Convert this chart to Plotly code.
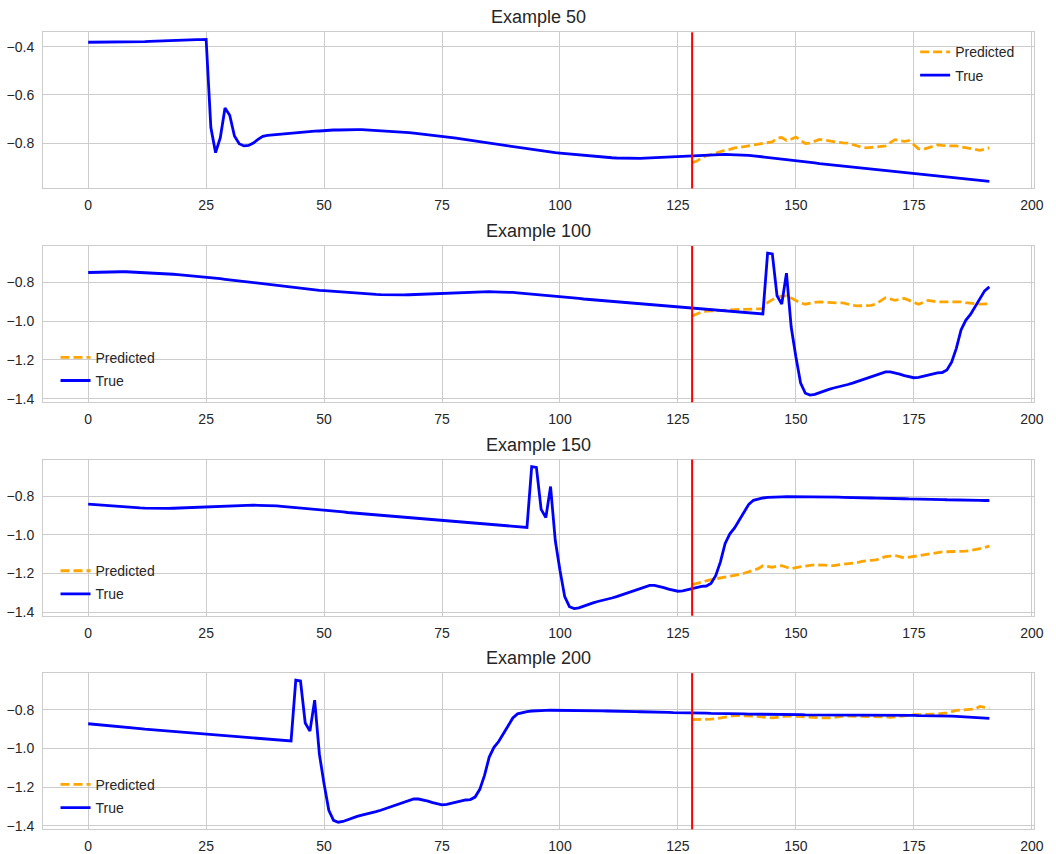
import plotly.graph_objects as go

# ---------------------------------------------------------------------------
# Data
# ---------------------------------------------------------------------------
# Underlying (normalised) signal, one value per time step, starting at step 50.
SIGNAL_START = 50
signal = [
    -0.382, -0.382, -0.382, -0.381, -0.381, -0.381, -0.381, -0.380, -0.380, -0.380,
    -0.380, -0.380, -0.379, -0.378, -0.377, -0.376, -0.375, -0.374, -0.374, -0.373,
    -0.373, -0.372, -0.372, -0.371, -0.371, -0.370, -0.736, -0.840, -0.778, -0.655,
    -0.685, -0.771, -0.803, -0.812, -0.810, -0.800, -0.785, -0.772, -0.768, -0.766,
    -0.764, -0.762, -0.760, -0.758, -0.757, -0.755, -0.753, -0.752, -0.751, -0.750,
    -0.748, -0.747, -0.746, -0.746, -0.745, -0.745, -0.744, -0.744, -0.744, -0.745,
    -0.746, -0.747, -0.748, -0.749, -0.750, -0.752, -0.754, -0.755, -0.757, -0.759,
    -0.761, -0.763, -0.765, -0.767, -0.769, -0.771, -0.774, -0.777, -0.780, -0.783,
    -0.786, -0.789, -0.792, -0.795, -0.798, -0.801, -0.804, -0.807, -0.810, -0.813,
    -0.816, -0.819, -0.822, -0.825, -0.828, -0.831, -0.834, -0.836, -0.838, -0.840,
    -0.842, -0.844, -0.846, -0.848, -0.850, -0.852, -0.854, -0.856, -0.857, -0.859,
    -0.860, -0.861, -0.862, -0.863, -0.864, -0.864, -0.864, -0.864, -0.863, -0.862,
    -0.861, -0.860, -0.859, -0.857, -0.856, -0.855, -0.854, -0.853, -0.852, -0.851,
    -0.850, -0.849, -0.848, -0.847, -0.847, -0.847, -0.848, -0.848, -0.849, -0.850,
    -0.851, -0.853, -0.855, -0.857, -0.859, -0.862, -0.864, -0.866, -0.869, -0.871,
    -0.873, -0.875, -0.878, -0.880, -0.882, -0.885, -0.887, -0.889, -0.892, -0.894,
    -0.896, -0.898, -0.901, -0.903, -0.905, -0.907, -0.909, -0.911, -0.913, -0.915,
    -0.917, -0.919, -0.921, -0.923, -0.925, -0.927, -0.929, -0.931, -0.933, -0.935,
    -0.937, -0.939, -0.941, -0.943, -0.945, -0.947, -0.949, -0.951, -0.953, -0.955,
    -0.957, -0.959, -0.960, -0.962, -0.648, -0.652, -0.869, -0.911, -0.751, -1.030,
    -1.185, -1.320, -1.372, -1.382, -1.378, -1.368, -1.360, -1.352, -1.345, -1.340,
    -1.333, -1.327, -1.320, -1.312, -1.300, -1.292, -1.284, -1.276, -1.268, -1.262,
    -1.262, -1.266, -1.273, -1.281, -1.288, -1.292, -1.290, -1.284, -1.276, -1.270,
    -1.267, -1.265, -1.252, -1.212, -1.140, -1.045, -0.995, -0.965, -0.925, -0.880,
    -0.843, -0.822, -0.815, -0.810, -0.807, -0.805, -0.804, -0.804, -0.803, -0.803,
    -0.803, -0.804, -0.804, -0.804, -0.805, -0.805, -0.805, -0.806, -0.806, -0.806,
    -0.807, -0.807, -0.808, -0.808, -0.809, -0.810, -0.810, -0.811, -0.811, -0.812,
    -0.812, -0.813, -0.813, -0.814, -0.815, -0.815, -0.816, -0.816, -0.817, -0.817,
    -0.818, -0.818, -0.819, -0.819, -0.820, -0.820, -0.821, -0.821, -0.822, -0.822,
    -0.823, -0.823, -0.824, -0.824, -0.824, -0.825, -0.825, -0.825, -0.826, -0.826,
    -0.826, -0.826, -0.827, -0.827, -0.827, -0.827, -0.827, -0.828, -0.828, -0.828,
    -0.828, -0.828, -0.828, -0.828, -0.829, -0.829, -0.829, -0.829, -0.829, -0.829,
    -0.830, -0.830, -0.830, -0.830, -0.830, -0.830, -0.831, -0.831, -0.831, -0.832,
    -0.832, -0.833, -0.833, -0.834, -0.835, -0.836, -0.837, -0.838, -0.839, -0.840,
    -0.842, -0.845,
]

WINDOW = 192          # steps shown per example
HORIZON_START = 128   # first forecast step inside the window

examples = [50, 100, 150, 200]

pred_50 = [
    -0.882, -0.875, -0.862, -0.852, -0.848, -0.842, -0.834, -0.830, -0.826, -0.820,
    -0.818, -0.815, -0.810, -0.806, -0.804, -0.801, -0.799, -0.795, -0.780, -0.777,
    -0.789, -0.784, -0.775, -0.790, -0.802, -0.800, -0.792, -0.785, -0.788, -0.792,
    -0.795, -0.797, -0.799, -0.800, -0.806, -0.812, -0.818, -0.820, -0.818, -0.815,
    -0.814, -0.812, -0.798, -0.786, -0.790, -0.793, -0.790, -0.808, -0.824, -0.826,
    -0.820, -0.812, -0.808, -0.810, -0.812, -0.812, -0.812, -0.815, -0.818, -0.822,
    -0.826, -0.830, -0.826, -0.820,
]
pred_100 = [
    -0.973, -0.962, -0.952, -0.948, -0.946, -0.945, -0.943, -0.942, -0.941, -0.940,
    -0.940, -0.939, -0.938, -0.937, -0.936, -0.935, -0.904, -0.888, -0.874, -0.870,
    -0.869, -0.880, -0.892, -0.905, -0.912, -0.906, -0.902, -0.900, -0.902, -0.904,
    -0.904, -0.905, -0.905, -0.912, -0.918, -0.921, -0.921, -0.921, -0.918, -0.910,
    -0.892, -0.878, -0.885, -0.892, -0.886, -0.882, -0.892, -0.904, -0.912, -0.902,
    -0.892, -0.896, -0.900, -0.900, -0.900, -0.900, -0.900, -0.900, -0.904, -0.908,
    -0.910, -0.911, -0.910, -0.910,
]
pred_150 = [
    -1.258, -1.250, -1.244, -1.238, -1.232, -1.228, -1.224, -1.220, -1.215, -1.210,
    -1.206, -1.199, -1.192, -1.184, -1.175, -1.160, -1.163, -1.168, -1.163, -1.160,
    -1.168, -1.175, -1.170, -1.165, -1.160, -1.158, -1.156, -1.155, -1.157, -1.159,
    -1.160, -1.156, -1.153, -1.151, -1.150, -1.144, -1.138, -1.133, -1.132, -1.130,
    -1.120, -1.113, -1.110, -1.107, -1.113, -1.120, -1.116, -1.112, -1.108, -1.103,
    -1.098, -1.094, -1.090, -1.089, -1.088, -1.088, -1.087, -1.086, -1.085, -1.082,
    -1.078, -1.072, -1.066, -1.059,
]
pred_200 = [
    -0.852, -0.852, -0.852, -0.850, -0.849, -0.847, -0.843, -0.838, -0.834, -0.831,
    -0.831, -0.831, -0.831, -0.833, -0.836, -0.838, -0.841, -0.843, -0.840, -0.836,
    -0.834, -0.834, -0.834, -0.836, -0.838, -0.840, -0.842, -0.843, -0.843, -0.843,
    -0.840, -0.836, -0.834, -0.834, -0.834, -0.834, -0.834, -0.834, -0.834, -0.834,
    -0.834, -0.837, -0.840, -0.837, -0.834, -0.830, -0.828, -0.826, -0.826, -0.826,
    -0.826, -0.824, -0.823, -0.820, -0.817, -0.810, -0.804, -0.802, -0.800, -0.799,
    -0.797, -0.783, -0.788, -0.792,
]
predictions = {50: pred_50, 100: pred_100, 150: pred_150, 200: pred_200}

x_ticks = [0, 25, 50, 75, 100, 125, 150, 175, 200]

# ---------------------------------------------------------------------------
# Styling / layout (pixel geometry of the 1056 x 854 page)
# ---------------------------------------------------------------------------
W, H = 1056, 854
TEXT = "#262626"
GRID = "#cccccc"
FONT = "Liberation Sans, Arial, DejaVu Sans, sans-serif"

plot_left, plot_right = 43.5, 1043.3
panel_tops = [32.5, 247.8, 462.8, 677.9]
panel_height = 157.3

fig = go.Figure()

for i, ex in enumerate(examples):
    n = i + 1
    xa = "x" if n == 1 else f"x{n}"
    ya = "y" if n == 1 else f"y{n}"
    leg = "legend" if n == 1 else f"legend{n}"

    offset = ex - SIGNAL_START
    true_vals = signal[offset:offset + WINDOW]
    steps = list(range(len(true_vals)))
    pred_vals = predictions[ex]
    pred_steps = list(range(HORIZON_START, HORIZON_START + len(pred_vals)))

    fig.add_trace(go.Scatter(
        x=pred_steps, y=pred_vals, mode="lines", name="Predicted",
        line=dict(color="orange", width=2.8, dash="9px,4px"),
        xaxis=xa, yaxis=ya, legend=leg, legendgroup=f"pred{n}",
    ))
    fig.add_trace(go.Scatter(
        x=steps, y=true_vals, mode="lines", name="True",
        line=dict(color="blue", width=2.8),
        xaxis=xa, yaxis=ya, legend=leg, legendgroup=f"true{n}",
    ))

    # forecast start marker
    fig.add_shape(type="line", xref=xa, yref=f"{ya} domain",
                  x0=HORIZON_START, x1=HORIZON_START, y0=0, y1=1,
                  line=dict(color="red", width=2))

    # axis ranges with 5 % padding, as an autoscaled axis would have
    all_y = true_vals + pred_vals
    lo, hi = min(all_y), max(all_y)
    pad = 0.05 * (hi - lo)
    xpad = 0.05 * (steps[-1] - steps[0])

    top = panel_tops[i]
    bottom = top + panel_height
    dom_y = [1 - bottom / H, 1 - top / H]
    dom_x = [plot_left / W, plot_right / W]

    axis_common = dict(
        showgrid=True, gridcolor=GRID, gridwidth=1,
        showline=True, linecolor=GRID, linewidth=1.25, mirror=True,
        zeroline=False, ticks="",
        tickfont=dict(family=FONT, size=14, color=TEXT),
    )
    fig.layout[f"xaxis{'' if n == 1 else n}"] = dict(
        axis_common, domain=dom_x, anchor=ya,
        range=[steps[0] - xpad, steps[-1] + xpad],
        tickmode="array", tickvals=x_ticks, ticktext=[str(t) for t in x_ticks],
        ticklabelstandoff=4,
    )
    fig.layout[f"yaxis{'' if n == 1 else n}"] = dict(
        axis_common, domain=dom_y, anchor=xa,
        range=[lo - pad, hi + pad],
        tick0=0, dtick=0.2, tickformat=".1f",
        ticklabelstandoff=5,
    )

    fig.add_annotation(
        text=f"Example {ex}", xref="paper", yref="paper",
        x=(plot_left + plot_right) / 2 / W, y=dom_y[1],
        xanchor="center", yanchor="bottom", yshift=3, showarrow=False,
        font=dict(family=FONT, size=18, color=TEXT),
    )

    # legend placement: upper right in the first panel, lower left elsewhere
    if n == 1:
        lx, ly_top = 923, top + 4
    else:
        lx, ly_top = 56, bottom - 61
    fig.layout[leg] = dict(
        x=lx / W, y=1 - ly_top / H, xanchor="left", yanchor="top",
        bgcolor="rgba(0,0,0,0)", borderwidth=0,
        font=dict(family=FONT, size=14, color=TEXT),
        tracegroupgap=2,
    )

fig.update_layout(
    width=W, height=H,
    margin=dict(l=0, r=0, t=0, b=0),
    paper_bgcolor="white", plot_bgcolor="white",
    showlegend=True,
)

fig.write_html("out.html")
